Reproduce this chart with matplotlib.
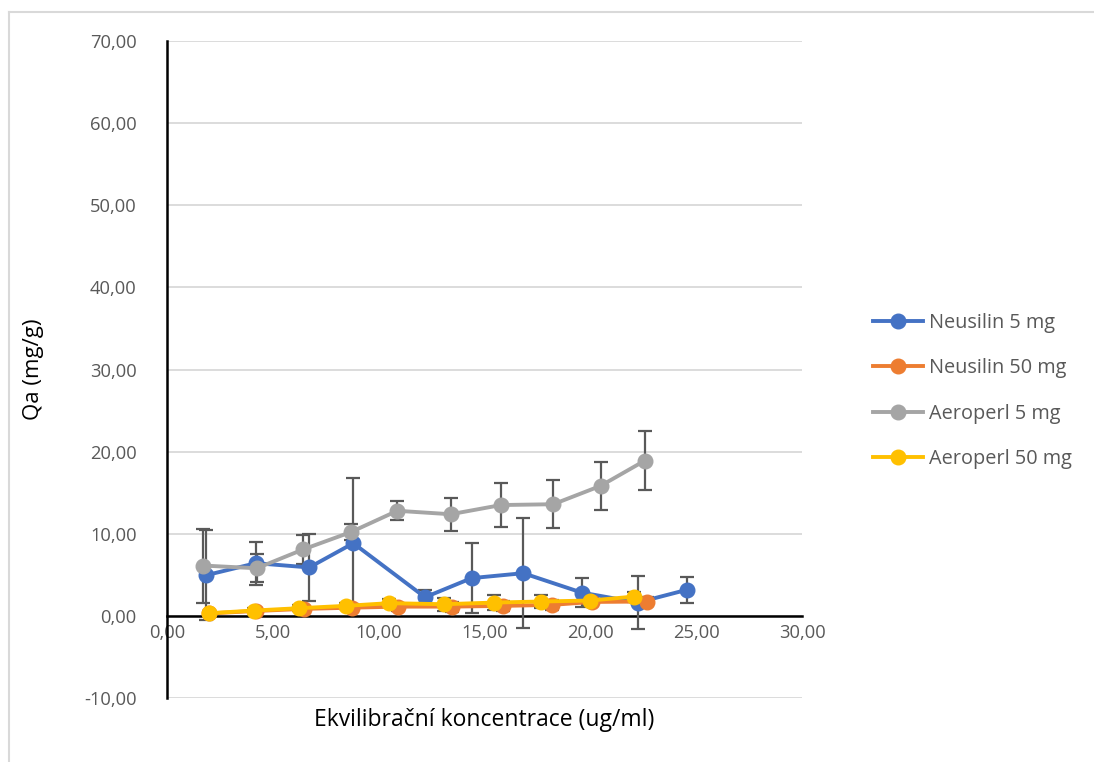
#!/usr/bin/env python3
import numpy as np
import matplotlib
matplotlib.use('Agg')
import matplotlib.pyplot as plt
from matplotlib.lines import Line2D

plt.rcParams['font.family'] = ['Open Sans', 'DejaVu Sans']

# equilibrium concentration (ug/ml), adsorbed amount Qa (mg/g), std dev
neu5_x = [1.84, 4.20, 6.72, 8.80, 12.19, 14.39, 16.83, 19.59, 22.23, 24.55]
neu5_y = [4.95, 6.42, 5.90, 8.85, 2.27, 4.60, 5.20, 2.84, 1.62, 3.17]
neu5_err = [5.5, 2.6, 4.1, 7.9, 0.9, 4.3, 6.7, 1.75, 3.2, 1.6]

neu50_x = [2.00, 4.20, 6.45, 8.73, 10.93, 13.45, 15.89, 18.17, 20.10, 22.69]
neu50_y = [0.30, 0.60, 0.85, 1.00, 1.13, 1.13, 1.22, 1.34, 1.70, 1.75]
neu50_err = [0.3, 0.3, 0.4, 0.4, 0.5, 0.6, 0.6, 0.6, 0.5, 0.6]

aer5_x = [1.72, 4.24, 6.44, 8.68, 10.88, 13.40, 15.78, 18.25, 20.48, 22.58]
aer5_y = [6.13, 5.80, 8.10, 10.20, 12.80, 12.38, 13.50, 13.60, 15.83, 18.92]
aer5_err = [4.5, 1.7, 1.8, 1.0, 1.15, 2.0, 2.7, 2.9, 2.95, 3.6]

aer50_x = [2.00, 4.11, 6.25, 8.44, 10.50, 13.08, 15.45, 17.65, 19.99, 22.06]
aer50_y = [0.33, 0.65, 0.94, 1.22, 1.55, 1.42, 1.62, 1.75, 1.87, 2.35]
aer50_err = [0.3, 0.3, 0.4, 0.4, 0.5, 0.8, 0.9, 0.85, 0.5, 0.6]

series = [
    ('Neusilin 5 mg', neu5_x, neu5_y, neu5_err, '#4472C4'),
    ('Neusilin 50 mg', neu50_x, neu50_y, neu50_err, '#ED7D31'),
    ('Aeroperl 5 mg', aer5_x, aer5_y, aer5_err, '#A5A5A5'),
    ('Aeroperl 50 mg', aer50_x, aer50_y, aer50_err, '#FFC000'),
]

fig = plt.figure(figsize=(10.94, 7.62), dpi=100)
ax = fig.add_axes([0.1527, 0.084, 0.5804, 0.862])

ax.set_xlim(0, 30)
ax.set_ylim(-10, 70)
ax.set_xticks(np.arange(0, 31, 5))
ax.set_yticks(np.arange(-10, 71, 10))
ax.set_xticklabels([f'{v:.2f}'.replace('.', ',') for v in np.arange(0, 31, 5)])
ax.set_yticklabels([f'{v:.2f}'.replace('.', ',') for v in np.arange(-10, 71, 10)])

ax.yaxis.grid(True, color='#D9D9D9', linewidth=1.3)
ax.set_axisbelow(True)
for s in ['top', 'right']:
    ax.spines[s].set_visible(False)
ax.spines['bottom'].set_position(('data', 0))
ax.spines['left'].set_linewidth(1.8)
ax.spines['bottom'].set_linewidth(1.8)
ax.tick_params(axis='both', length=0, labelsize=13.2, labelcolor='#595959')
ax.tick_params(axis='y', pad=22)
ax.tick_params(axis='x', pad=6)

handles = []
for name, xs, ys, err, col in series:
    ax.errorbar(xs, ys, yerr=err, fmt='none', ecolor='#595959',
                elinewidth=1.6, capsize=5, capthick=1.6, zorder=3)
for name, xs, ys, err, col in series:
    ax.plot(xs, ys, '-o', color=col, lw=2.8, markersize=10.5, zorder=4)
    handles.append(Line2D([], [], color=col, lw=2.8, marker='o', markersize=10.5))

fig.legend(handles, [s[0] for s in series], loc='center left',
           bbox_to_anchor=(0.782, 0.487), frameon=False, fontsize=14.3,
           labelcolor='#595959', handlelength=2.5, handletextpad=0.3,
           labelspacing=1.27)

fig.text(0.1527 + 0.5804 / 2, 0.055, 'Ekvilibrační koncentrace (ug/ml)',
         ha='center', va='center', fontsize=16.5)
fig.text(0.031, 0.084 + 0.862 / 2, 'Qa (mg/g)', rotation=90,
         ha='center', va='center', fontsize=16)

# chart area border
fig.add_artist(Line2D([9 / 1094, 9 / 1094], [0, 1 - 12 / 762],
                      transform=fig.transFigure, color='#D9D9D9', lw=1.5))
fig.add_artist(Line2D([9 / 1094, 1], [1 - 12 / 762, 1 - 12 / 762],
                      transform=fig.transFigure, color='#D9D9D9', lw=1.5))

fig.savefig('out.png', dpi=100)
